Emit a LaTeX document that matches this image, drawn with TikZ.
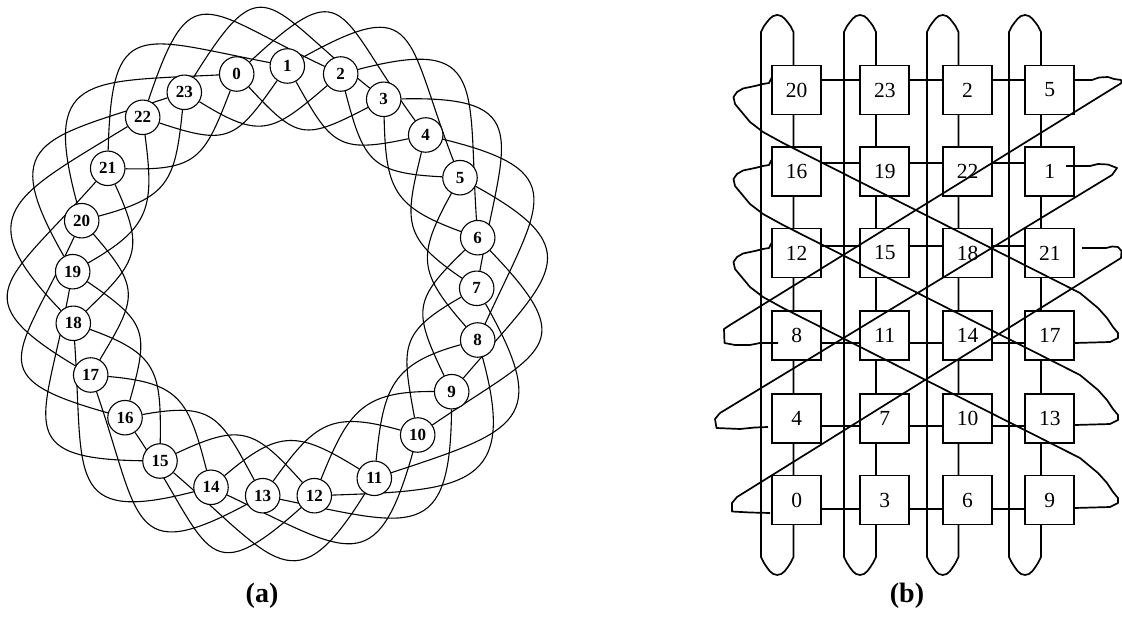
\documentclass[tikz,border=0pt]{standalone}
\usepackage{fontspec}
\setmainfont{Liberation Serif}
\usetikzlibrary{calc,backgrounds}
\begin{document}
\begin{tikzpicture}[x=1pt,y=-1pt,
  ringnode/.style={circle,draw,fill=white,line width=1.1pt,minimum size=34.5pt,inner sep=0pt,font=\fontsize{17}{17}\selectfont\bfseries},
  ringedge/.style={line width=1.1pt},
  gridbox/.style={rectangle,draw,fill=white,line width=1.7pt,minimum width=49pt,minimum height=49pt,inner sep=0pt,font=\fontsize{21.5}{21.5}\selectfont},
  gridline/.style={line width=1.7pt,line join=round},
  caption/.style={font=\fontsize{28}{28}\selectfont\bfseries}]
\useasboundingbox (0,0) rectangle (1122,620);
% ---------------- (a) ----------------
\coordinate (C) at (276.5,280);
\foreach \nm/\x/\y in {0/236.7/74, 1/287.3/66, 2/340.7/74, 3/383.7/99.3, 4/425.7/135, 5/460/177.7, 6/477.7/237.7, 7/476.7/288.3, 8/477.7/340, 9/451.7/391.7, 10/417.7/435, 11/374.3/478.3, 12/314.3/495.7, 13/262.7/495.7, 14/211/487.3, 15/160/461, 16/125/417.7, 17/90.7/375, 18/73.3/323.3, 19/72.7/271.7, 20/81.7/220.7, 21/107.7/168.3, 22/142.7/117.3, 23/184.3/92.3}
  \node[ringnode] (n\nm) at (\x,\y) {\nm};
\begin{scope}[on background layer]
\foreach \i in {0,...,23} {
  \pgfmathtruncatemacro\j{mod(\i+4,24)}
  \pgfmathtruncatemacro\k{mod(\i+3,24)}
  \draw[ringedge] (n\i) .. controls ($(n\i)!152pt!122:(C)$) and ($(n\j)!152pt!262:(C)$) .. (n\j);
  \draw[ringedge] (n\i) .. controls ($(n\i)!90pt!32:(C)$) and ($(n\k)!90pt!328:(C)$) .. (n\k);
}
\end{scope}
\node[caption] (capa) at (262,596) {(a)};
% ---------------- (b) ----------------
\node[gridbox] (b20) at (796.7,90) {20};
\node[gridbox] (b23) at (884.8,90) {23};
\node[gridbox] (b2) at (967.5,90) {2};
\node[gridbox] (b5) at (1049.8,90) {5};
\node[gridbox] (b16) at (796.7,171.8) {16};
\node[gridbox] (b19) at (884.8,171.8) {19};
\node[gridbox] (b22) at (967.5,171.8) {22};
\node[gridbox] (b1) at (1049.8,171.8) {1};
\node[gridbox] (b12) at (796.7,253) {12};
\node[gridbox] (b15) at (884.8,253) {15};
\node[gridbox] (b18) at (967.5,253) {18};
\node[gridbox] (b21) at (1049.8,253) {21};
\node[gridbox] (b8) at (796.7,335.7) {8};
\node[gridbox] (b11) at (884.8,335.7) {11};
\node[gridbox] (b14) at (967.5,335.7) {14};
\node[gridbox] (b17) at (1049.8,335.7) {17};
\node[gridbox] (b4) at (796.7,418.3) {4};
\node[gridbox] (b7) at (884.8,418.3) {7};
\node[gridbox] (b10) at (967.5,418.3) {10};
\node[gridbox] (b13) at (1049.8,418.3) {13};
\node[gridbox] (b0) at (796.7,500) {0};
\node[gridbox] (b3) at (884.8,500) {3};
\node[gridbox] (b6) at (967.5,500) {6};
\node[gridbox] (b9) at (1049.8,500) {9};
\begin{scope}[on background layer]
  % column loops (wrap-around links)
  \foreach \xo/\xi in {761/793.5, 844/876, 927/958.5, 1009/1041} {
    \pgfmathsetmacro\xm{(\xo+\xi)/2}
    \draw[gridline] (\xo,557) -- (\xo,32) -- (\xo+3,26) .. controls (\xo+7,21) and (\xm-6,15) .. (\xm,15)
      .. controls (\xm+6,15) and (\xi-7,21) .. (\xi-3,26) -- (\xi,32) -- (\xi,557) -- (\xi-3,563)
      .. controls (\xi-7,569) and (\xm+6,575) .. (\xm,575) .. controls (\xm-6,575) and (\xo+7,569) .. (\xo+3,563) -- cycle;
  }
  % row links
  \foreach \a/\b/\c/\d/\s in {20/23/2/5/10, 16/19/22/1/8.5, 12/15/18/21/7, 8/11/14/17/-7.6, 4/7/10/13/-7.7, 0/3/6/9/-9} {
    \draw[gridline] ([yshift=\s pt]b\a.center) -- ([yshift=\s pt]b\b.center);
    \draw[gridline] ([yshift=\s pt]b\b.center) -- ([yshift=\s pt]b\c.center);
    \draw[gridline] ([yshift=\s pt]b\c.center) -- ([yshift=\s pt]b\d.center);
  }
\end{scope}
% row wrap-around links (drawn over the boxes)
\draw[gridline] (1074,80) -- (1092,80) -- (1099,77.5) -- (1108,77) -- (1114,79) -- (1121,80) -- (1121.5,83)
  -- (730,325) -- (724,329) -- (724.5,343) -- (735,345) -- (750,345) -- (760,343) -- (778,343);
\draw[gridline] (1066,166) -- (1090,166) -- (1098,164) -- (1108,164.5) -- (1117,168) -- (1112,175)
  -- (720,413) -- (715,419) -- (716.5,428) -- (740,429) -- (755,427.5) -- (768,427);
\draw[gridline] (1082,248) -- (1106,248) -- (1112,246.5) -- (1118,247) -- (1121.5,251) -- (1121,258)
  -- (737,497) -- (732,503) -- (732,511.5) -- (750,512.5) -- (770,513);
\foreach \s in {0,82,165} {
  \draw[gridline] (1075,343+\s) -- (1110,342+\s) -- (1118,338+\s) -- (1118,333+\s) -- (1113,327+\s) -- (1107,318+\s)
    -- (1098,308+\s) -- (1080,293+\s) -- (783,143+\s) -- (763,132+\s) -- (750,122+\s) -- (740,110+\s)
    -- (735,104+\s) -- (733.5,97+\s) -- (737,92+\s) -- (743,88.5+\s) -- (755,86+\s) -- (763,84+\s) -- (769,83+\s) -- (771.5,78+\s);
}
\node[caption] (capb) at (907,596) {(b)};
\end{tikzpicture}
\end{document}
